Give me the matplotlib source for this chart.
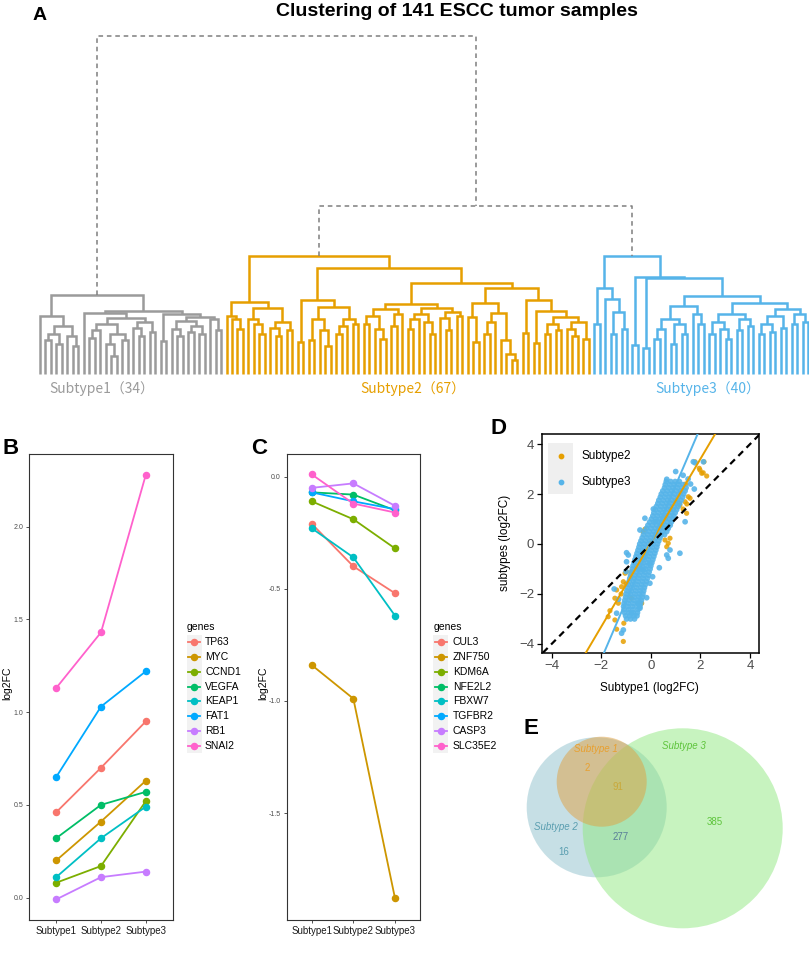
import matplotlib
matplotlib.use("Agg")
import matplotlib.pyplot as plt
from matplotlib.lines import Line2D
from matplotlib.patches import Circle, Rectangle

W, H = 809, 956
plt.rcParams['font.family'] = ['Liberation Sans', 'DejaVu Sans']
CJK = ['Noto Sans CJK SC', 'DejaVu Sans']

# ---------------------------------------------------------------- data
# Panel A: dendrogram subtrees, (merge height, left, right); 1 = a sample leaf
grey_a = (58, 1, (48, (40, (34, 1, 1), (30, 1, 1)), (38, 1, (28, 1, 1))))
grey_b1 = (61, 1, (56, (50, (44, (36, 1, 1), 1), (40, (30, 1, (18, 1, 1)), (34, 1, 1))),
                   (52, (46, 1, (38, 1, 1)), (42, 1, 1))))
grey_b2 = (60, (33, 1, 1), (57, (53, (45, 1, (38, 1, 1)), (48, (42, 1, 1), (40, 1, 1))),
                            (55, 1, (44, 1, 1))))
grey_tree = (79, grey_a, (63, grey_b1, grey_b2))

orange_o1 = (72, (58, 1, (55, 1, (45, 1, 1))),
             (66, (55, 1, (50, 1, (40, 1, 1))), (52, (46, 1, (38, 1, 1)), (44, 1, 1))))
orange_o2a = (74, (32, 1, 1), (67, (55, (34, 1, 1), (44, 1, (28, 1, 1))),
                              (55, (48, (40, 1, 1), 1), (50, 1, 1))))
orange_o2bl = (70, (65, (58, (50, 1, 1), (45, 1, (35, 1, 1))), (60, (48, 1, 1), 1)),
               (66, (60, (55, (45, 1, 1), 1), (52, 1, (40, 1, 1))),
                (62, (56, 1, (44, 1, 1)), (58, 1, 1))))
orange_r1 = (71, (57, 1, (32, 1, 1)), (61, (52, (40, 1, 1), 1), (34, 1, (20, 1, (14, 1, 1)))))
orange_r2 = (74, (41, 1, 1), (63, (31, 1, 1), (57, (50, (40, 1, 1), (44, 1, 1)),
                                              (52, (45, 1, (38, 1, 1)), (35, 1, 1)))))
orange_tree = (118, orange_o1, (106, orange_o2a, (91, orange_o2bl, (86, orange_r1, orange_r2))))

blue_l = (86, (50, 1, 1), (75, 1, (62, (40, 1, 1), (45, 1, 1))))
blue_r3a = (68, (55, (45, (35, 1, 1), 1), (50, (30, 1, 1), (40, 1, 1))), (60, 1, (50, 1, 1)))
blue_r3b = (71, (60, (52, (40, 1, 1), (45, 1, (35, 1, 1))), (55, (44, 1, 1), (48, 1, 1))),
            (65, (58, (50, (40, 1, 1), (42, 1, 1)), (46, 1, 1)), (60, (50, 1, 1), (52, 1, 1))))
blue_tree = (118, blue_l, (97, (29, 1, 1), (96, (26, 1, 1), (78, blue_r3a, blue_r3b))))

link_heights = [338, 168]          # dashed upper links
cluster_labels = ['Subtype1（34）', 'Subtype2（67）', 'Subtype3（40）']
cluster_colors = ['#9B9B9B', '#E69F00', '#56B4E9']

# Panel B / C
subtypes = ['Subtype1', 'Subtype2', 'Subtype3']
gg_colors = ['#F8766D', '#CD9600', '#7CAE00', '#00BE67', '#00BFC4', '#00A9FF', '#C77CFF', '#FF61CC']
up_genes = ['TP63', 'MYC', 'CCND1', 'VEGFA', 'KEAP1', 'FAT1', 'RB1', 'SNAI2']
up_values = [[0.46, 0.70, 0.95], [0.20, 0.41, 0.63], [0.08, 0.17, 0.52], [0.32, 0.50, 0.57],
             [0.11, 0.32, 0.49], [0.65, 1.03, 1.22], [-0.01, 0.11, 0.14], [1.13, 1.43, 2.28]]
down_genes = ['CUL3', 'ZNF750', 'KDM6A', 'NFE2L2', 'FBXW7', 'TGFBR2', 'CASP3', 'SLC35E2']
down_values = [[-0.21, -0.40, -0.52], [-0.84, -0.99, -1.88], [-0.11, -0.19, -0.32],
               [-0.07, -0.08, -0.15], [-0.23, -0.36, -0.62], [-0.07, -0.11, -0.145],
               [-0.05, -0.03, -0.13], [0.01, -0.12, -0.16]]

# Panel D: log2FC of Subtype2 / Subtype3 vs Subtype1
s2_x = [1.78, 1.98, 2.14, 2.05, 2.25, 1.51, 1.58, 1.44, 1.17, 0.77, 0.70, 0.64, -0.31, -0.24,
        -0.98, -1.11, -1.18, -1.38, -1.45, -1.31, -1.72, -1.65, -1.45, -1.09, -1.11, -1.38,
        -0.78, 1.95, 2.11, 1.38, 0.57, -1.04, -0.78, -0.37, 1.30, 1.45,
        -1.20, -1.00, -0.80, -0.60, -0.40, -0.20, 0.00, 0.20, 0.40, 0.60, 0.80, 1.00, 1.20, 1.40]
s2_y = [3.29, 2.96, 3.29, 2.83, 2.72, 1.89, 1.83, 1.23, 1.56, 0.23, 0.03, -0.11, 0.49, 0.59,
        -1.11, -1.51, -1.71, -1.84, -2.17, -2.37, -2.91, -2.67, -3.04, -3.17, -3.90, -3.41,
        -2.17, 3.03, 2.85, 1.69, 0.16, -1.17, -1.11, -2.37, 1.40, 1.60,
        -2.00, -1.60, -1.30, -0.95, -0.60, -0.30, 0.05, 0.40, 0.72, 1.05, 1.40, 1.72, 2.05, 2.40]
s3_out_x = [0.64, 1.78, 2.12, 1.71, 1.38, 0.77, 0.64, 0.70, -0.04, -0.31, -0.04, -0.91, -0.98,
            -0.44, -0.24, -0.51, -0.44, -0.78, -1.38, -0.98, -1.00, -1.48, -0.17, 0.07, 0.34,
            1.17, -1.11, -1.18, -1.30, 1.50, 1.30, 1.00, 0.20, 0.10, 1.60, 1.75]
s3_out_y = [2.59, 3.25, 3.29, 3.29, 0.89, -0.24, -0.44, -0.57, -0.77, -1.04, -1.57, -0.44, -0.71,
            0.56, 1.03, -2.37, -2.57, -2.77, -2.77, -0.35, -1.10, -1.80, -2.15, -1.31, -0.95,
            -0.37, -3.44, -3.57, -2.21, 2.60, 2.75, 2.90, 0.90, 1.40, 2.40, 2.20]
s3_core_rows = [
    (2.500, [0.62, 0.80, 0.98, 1.15]),
    (2.375, [0.58, 0.76, 0.94, 1.12, 1.30]),
    (2.250, [0.55, 0.72, 0.90, 1.08, 1.26, 1.42]),
    (2.125, [0.48, 0.66, 0.84, 1.02, 1.20, 1.38]),
    (2.000, [0.42, 0.60, 0.78, 0.96, 1.14, 1.32]),
    (1.875, [0.38, 0.56, 0.74, 0.92, 1.10, 1.28]),
    (1.750, [0.32, 0.50, 0.68, 0.86, 1.04, 1.22]),
    (1.625, [0.28, 0.46, 0.64, 0.82, 1.00, 1.16]),
    (1.500, [0.22, 0.40, 0.58, 0.76, 0.94, 1.10]),
    (1.375, [0.18, 0.36, 0.54, 0.72, 0.90, 1.04]),
    (1.250, [0.12, 0.30, 0.48, 0.66, 0.84, 0.98]),
    (1.125, [0.08, 0.26, 0.44, 0.62, 0.80, 0.92]),
    (1.000, [0.02, 0.20, 0.38, 0.56, 0.74, 0.88]),
    (0.875, [-0.05, 0.13, 0.31, 0.49, 0.67, 0.82]),
    (0.750, [-0.12, 0.06, 0.24, 0.42, 0.60, 0.78]),
    (0.625, [-0.18, 0.00, 0.18, 0.36, 0.54, 0.70]),
    (0.500, [-0.25, -0.07, 0.11, 0.29, 0.47, 0.64]),
    (0.375, [-0.30, -0.12, 0.06, 0.24, 0.42, 0.55]),
    (0.250, [-0.35, -0.17, 0.01, 0.19, 0.37]),
    (0.125, [-0.40, -0.22, -0.04, 0.14, 0.32]),
    (0.000, [-0.45, -0.27, -0.09, 0.09, 0.27]),
    (-0.125, [-0.48, -0.30, -0.12, 0.06, 0.24]),
    (-0.250, [-0.52, -0.34, -0.16, 0.02, 0.20]),
    (-0.375, [-0.56, -0.38, -0.20, -0.02, 0.16]),
    (-0.500, [-0.60, -0.42, -0.24, -0.06, 0.12]),
    (-0.625, [-0.64, -0.46, -0.28, -0.10, 0.08]),
    (-0.750, [-0.68, -0.50, -0.32, -0.14, 0.04]),
    (-0.875, [-0.72, -0.54, -0.36, -0.18, 0.00]),
    (-1.000, [-0.75, -0.57, -0.39, -0.21, -0.03]),
    (-1.125, [-0.78, -0.60, -0.42, -0.24, -0.07]),
    (-1.250, [-0.82, -0.64, -0.46, -0.28, -0.10]),
    (-1.375, [-0.85, -0.67, -0.49, -0.31, -0.14]),
    (-1.500, [-0.88, -0.70, -0.52, -0.34, -0.18]),
    (-1.625, [-0.91, -0.73, -0.55, -0.37, -0.22]),
    (-1.750, [-0.94, -0.76, -0.58, -0.40, -0.26]),
    (-1.875, [-0.97, -0.79, -0.61, -0.43, -0.29]),
    (-2.000, [-1.00, -0.82, -0.64, -0.46, -0.32]),
    (-2.125, [-1.02, -0.84, -0.66, -0.48, -0.35]),
    (-2.250, [-1.05, -0.87, -0.69, -0.51, -0.38]),
    (-2.375, [-1.08, -0.90, -0.72, -0.54, -0.41]),
    (-2.500, [-1.10, -0.92, -0.74, -0.56, -0.44]),
    (-2.625, [-1.08, -0.90, -0.72, -0.52]),
    (-2.750, [-1.06, -0.88, -0.70, -0.54]),
    (-2.875, [-1.02, -0.85, -0.68, -0.56]),
    (-3.000, [-0.98, -0.82, -0.66]),
]
fit_slope = [1.68, 2.32]       # Subtype2, Subtype3 linear fits
fit_intercept = [0.05, 0.03]

# Panel E: Venn region counts
venn_sets = ['Subtype 1', 'Subtype 2', 'Subtype 3']
venn_counts = [2, 91, 16, 277, 385]   # S1&S2 only, all three, S2 only, S2&S3, S3 only

# ---------------------------------------------------------------- figure
fig = plt.figure(figsize=(W / 100, H / 100), dpi=100)


def add_ax(l, t, r, b):
    return fig.add_axes([l / W, 1 - b / H, (r - l) / W, (b - t) / H])


def fx(x):
    return x / W


def fy(y):
    return 1 - y / H


# ---------------- Panel A
axA = add_ax(0, 30, 809, 400)
axA.set_xlim(-40 / 5.486, (809 - 40) / 5.486)
axA.set_ylim(-26, 344)
axA.axis('off')
LW = 1.8


def draw_tree(ax, node, counter, color):
    if isinstance(node, int):
        x = counter[0]
        counter[0] += 1
        return x, 0.0
    h, left, right = node
    xl, hl = draw_tree(ax, left, counter, color)
    xr, hr = draw_tree(ax, right, counter, color)
    ax.plot([xl, xl, xr, xr], [hl, h, h, hr], color=color, lw=LW,
            solid_joinstyle='miter', solid_capstyle='butt')
    return (xl + xr) / 2, h


counter = [0]
roots = []
for tree, col in zip([grey_tree, orange_tree, blue_tree], cluster_colors):
    roots.append(draw_tree(axA, tree, counter, col))
(gx, gh), (ox, oh), (bx, bh) = roots
mid = (ox + bx) / 2
dash_kw = dict(color='#7F7F7F', lw=1.1, linestyle=(0, (3, 2.5)))
axA.plot([ox, ox, bx, bx], [oh, link_heights[1], link_heights[1], bh], **dash_kw)
axA.plot([gx, gx, mid, mid], [gh, link_heights[0], link_heights[0], link_heights[1]], **dash_kw)

label_x = [11.3, 68.0, 121.8]
for lx, lab, col in zip(label_x, cluster_labels, cluster_colors):
    axA.text(lx, -15, lab, ha='center', va='center', fontsize=10, color=col, family=CJK)

fig.text(fx(457), fy(12), 'Clustering of 141 ESCC tumor samples', ha='center', va='center',
         fontsize=14, fontweight='bold')

# panel letters
for letter, (px, py) in zip('ABCDE', [(40, 15), (11, 448), (259, 448), (498, 429), (531, 728)]):
    fig.text(fx(px), fy(py), letter, ha='center', va='center', fontsize=16 if letter != 'A' else 14,
             fontweight='bold')

# ---------------- Panels B & C
BOX_TOP, BOX_BOT = 454, 920


def line_panel(left, right, genes, values, ylim, yticks, ylab_x, leg):
    ax = add_ax(left, BOX_TOP, right, BOX_BOT)
    xs = [1, 2, 3]
    for g, vals, col in zip(genes, values, gg_colors):
        ax.plot(xs, vals, '-o', color=col, lw=1.3, ms=4.4, zorder=3)
    ax.set_xlim(0.4, 3.6)
    ax.set_ylim(*ylim)
    ax.set_xticks(xs)
    ax.set_xticklabels(subtypes, fontsize=7, color='#1A1A1A')
    ax.set_yticks(yticks)
    ax.set_yticklabels(['%.1f' % t for t in yticks], fontsize=5, color='#4D4D4D')
    ax.tick_params(direction='out', length=2.5, width=0.6, color='#333333', pad=2)
    for s in ax.spines.values():
        s.set_color('#333333')
        s.set_linewidth(0.8)
    cy = (BOX_TOP + BOX_BOT) / 2
    fig.text(fx(ylab_x), fy(cy - 4), 'log2FC', rotation=90, ha='center', va='center', fontsize=7.5)
    # legend
    title_x, step, key_l, key_r, txt_x = leg
    first_y = cy + 7 - 3.5 * step
    fig.text(fx(title_x), fy(first_y - 15), 'genes', fontsize=7.5, ha='left', va='center')
    fig.add_artist(Rectangle((fx(key_l - 1.5), fy(first_y + step * 7 + 7)), (key_r - key_l + 3) / W,
                             (step * 7 + 14) / H, transform=fig.transFigure,
                             facecolor='#F2F2F2', edgecolor='none', zorder=0))
    for i, (g, col) in enumerate(zip(genes, gg_colors)):
        yy = fy(first_y + i * step)
        fig.add_artist(Line2D([fx(key_l), fx(key_r)], [yy, yy], color=col, lw=1.3))
        fig.add_artist(Line2D([fx((key_l + key_r) / 2)], [yy], color=col, marker='o', ms=4.4))
        fig.text(fx(txt_x), yy, g, fontsize=7.5, ha='left', va='center')
    return ax


line_panel(29.3, 172.7, up_genes, up_values, (-0.121, 2.392),
           [0.0, 0.5, 1.0, 1.5, 2.0], 7, (187, 14.8, 188.3, 200, 205))
line_panel(286.7, 420, down_genes, down_values, (-1.977, 0.101),
           [0.0, -0.5, -1.0, -1.5], 263, (433.3, 14.8, 435, 446.7, 452.7))

# ---------------- Panel D
axD = add_ax(541.7, 434.3, 759.3, 652.7)
s3_x = list(s3_out_x)
s3_y = list(s3_out_y)
for yv, xvals in s3_core_rows:
    s3_x += xvals
    s3_y += [yv] * len(xvals)
c2, c3 = '#E69F00', '#56B4E9'
axD.scatter(s2_x, s2_y, s=14, color=c2, edgecolors='none', alpha=0.85, zorder=2)
axD.scatter(s3_x, s3_y, s=17, color=c3, edgecolors='none', alpha=0.9, zorder=3)
axD.axline((0, fit_intercept[0]), slope=fit_slope[0], color=c2, lw=1.4, zorder=4)
axD.axline((0, fit_intercept[1]), slope=fit_slope[1], color=c3, lw=1.4, zorder=4)
axD.axline((0, 0), slope=1, color='black', lw=1.6, linestyle=(0, (3, 2.2)), zorder=5)
axD.set_xlim(-4.40, 4.37)
axD.set_ylim(-4.35, 4.39)
axD.set_xticks([-4, -2, 0, 2, 4])
axD.set_yticks([-4, -2, 0, 2, 4])
axD.tick_params(direction='out', length=3.5, width=0.9, color='black', labelsize=9.5,
                labelcolor='#4D4D4D', pad=2)
for s in axD.spines.values():
    s.set_linewidth(1.1)
fig.text(fx(649), fy(688), 'Subtype1 (log2FC)', ha='center', va='center', fontsize=8.5)
fig.text(fx(505), fy(543), 'subtypes (log2FC)', rotation=90, ha='center', va='center', fontsize=8.5)
axD.add_patch(Rectangle((0.029, 0.727), 0.115, 0.233, transform=axD.transAxes,
                        facecolor='#EFEFEF', edgecolor='none', zorder=1))
for yy, col, lab in [(0.90, c2, 'Subtype2'), (0.783, c3, 'Subtype3')]:
    axD.scatter([0.087], [yy], s=10, color=col, transform=axD.transAxes, zorder=6, clip_on=False)
    axD.text(0.184, yy, lab, transform=axD.transAxes, fontsize=8.5, va='center', ha='left')

# ---------------- Panel E
axE = add_ax(500, 700, 809, 956)
axE.set_xlim(-0.967, 2.123)
axE.set_ylim(-1.487, 1.073)
axE.axis('off')
circles = [((0.0, 0.0), 0.70, '#8FC1CC'),     # Subtype 2
           ((0.86, -0.21), 1.00, '#90E880'),  # Subtype 3
           ((0.05, 0.256), 0.45, '#E0A040')]  # Subtype 1
for (cx, cy), r, col in circles:
    axE.add_patch(Circle((cx, cy), r, facecolor=col, edgecolor='none', alpha=0.5))
set_pos = {'Subtype 1': (-0.007, 0.58, '#E8A030'),
           'Subtype 2': (-0.407, -0.20, '#5A9EB0'),
           'Subtype 3': (0.873, 0.616, '#5EC43C')}
for name in venn_sets:
    px, py, col = set_pos[name]
    axE.text(px, py, name, ha='center', va='center', fontsize=7, style='italic', color=col)
count_pos = [(-0.09, 0.396, '#E8A030'), (0.216, 0.206, '#C9A93A'), (-0.327, -0.444, '#5A9EB0'),
             (0.24, -0.294, '#5A7E98'), (1.183, -0.144, '#5EC43C')]
for cnt, (px, py, col) in zip(venn_counts, count_pos):
    axE.text(px, py, str(cnt), ha='center', va='center', fontsize=7, color=col)

fig.savefig('out.png', dpi=100)
